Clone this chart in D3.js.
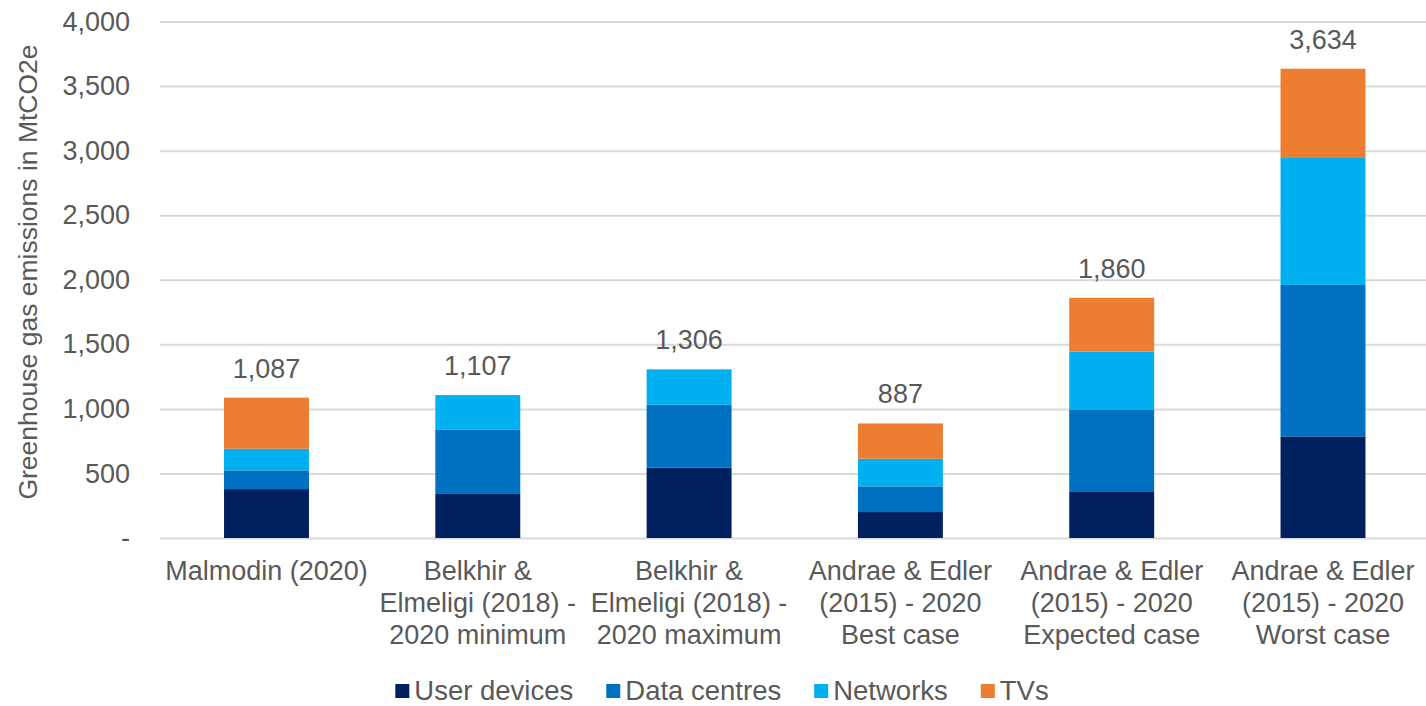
<!DOCTYPE html>
<html>
<head>
<meta charset="utf-8">
<script src="https://cdn.jsdelivr.net/npm/d3@7"></script>
<style>
  html, body { margin: 0; padding: 0; background: #ffffff; }
  svg { display: block; font-family: "Liberation Sans", Arial, sans-serif; }
</style>
</head>
<body>
<svg id="chart" width="1426" height="706"></svg>
<script>
// Study labels, one array entry per wrapped line
const categories = [
  ["Malmodin (2020)"],
  ["Belkhir &", "Elmeligi (2018) -", "2020 minimum"],
  ["Belkhir &", "Elmeligi (2018) -", "2020 maximum"],
  ["Andrae & Edler", "(2015) - 2020", "Best case"],
  ["Andrae & Edler", "(2015) - 2020", "Expected case"],
  ["Andrae & Edler", "(2015) - 2020", "Worst case"]
];

// Emissions by component, MtCO2e
const userDevices = [379, 346, 545, 201, 362, 787];
const dataCentres = [145, 495, 487, 199, 634, 1173];
const networks    = [167, 266, 274, 214, 448, 989];
const tvs         = [396, 0, 0, 273, 416, 685];

// Stated totals shown above each bar
const totals = [1087, 1107, 1306, 887, 1860, 3634];

const seriesNames = ["User devices", "Data centres", "Networks", "TVs"];
const seriesColors = ["#002060", "#0070C0", "#00B0F0", "#ED7D31"];

const yTicks = [0, 500, 1000, 1500, 2000, 2500, 3000, 3500, 4000];

const W = 1426, H = 706;
const plot = { left: 160.85, right: 1428.65, top: 21.5, bottom: 538 };
const textColor = "#595959";
const fontSize = 27;

const svg = d3.select("#chart");

const keys = seriesNames;
const table = categories.map((c, i) => ({
  idx: i,
  "User devices": userDevices[i],
  "Data centres": dataCentres[i],
  "Networks": networks[i],
  "TVs": tvs[i]
}));

const x = d3.scaleBand()
  .domain(categories.map((c, i) => i))
  .range([plot.left, plot.right])
  .paddingInner(0.598)
  .paddingOuter(0.299);

const y = d3.scaleLinear()
  .domain([0, 4000])
  .range([plot.bottom, plot.top]);

const color = d3.scaleOrdinal().domain(keys).range(seriesColors);

// Horizontal gridlines and tick labels
const yAxis = d3.axisLeft(y)
  .tickValues(yTicks)
  .tickSize(-(W - 160))
  .tickPadding(30)
  .tickFormat(d => d === 0 ? "-" : d3.format(",")(d));

const gy = svg.append("g")
  .attr("transform", `translate(160,0)`)
  .call(yAxis);
gy.select(".domain").remove();
gy.selectAll(".tick line")
  .attr("stroke", "#D9D9D9")
  .attr("stroke-width", 2);
gy.selectAll(".tick text")
  .attr("fill", textColor)
  .attr("font-size", fontSize)
  .attr("font-family", "'Liberation Sans', Arial, sans-serif");

// Stacked bars
const stacked = d3.stack().keys(keys)(table);

svg.append("g")
  .selectAll("g")
  .data(stacked)
  .join("g")
  .attr("fill", d => color(d.key))
  .selectAll("rect")
  .data(d => d)
  .join("rect")
  .attr("x", d => x(d.data.idx))
  .attr("width", x.bandwidth())
  .attr("y", d => y(d[1]))
  .attr("height", d => y(d[0]) - y(d[1]));

// Total labels above bars
svg.append("g")
  .selectAll("text")
  .data(totals)
  .join("text")
  .attr("x", (d, i) => x(i) + x.bandwidth() / 2)
  .attr("y", d => y(d) - 20)
  .attr("text-anchor", "middle")
  .attr("fill", textColor)
  .attr("font-size", fontSize)
  .text(d => d3.format(",")(d));

// Category labels under the axis
const catG = svg.append("g");
categories.forEach((lines, i) => {
  const cx = x(i) + x.bandwidth() / 2;
  const t = catG.append("text")
    .attr("x", cx)
    .attr("y", 580)
    .attr("text-anchor", "middle")
    .attr("fill", textColor)
    .attr("font-size", fontSize);
  lines.forEach((ln, j) => {
    t.append("tspan")
      .attr("x", cx)
      .attr("y", 580 + j * 32)
      .text(ln);
  });
});

// Y-axis title
svg.append("text")
  .attr("transform", "translate(37,272) rotate(-90)")
  .attr("text-anchor", "middle")
  .attr("fill", textColor)
  .attr("font-size", 26.5)
  .text("Greenhouse gas emissions in MtCO2e");

// Legend, laid out left to right and centred
const legend = svg.append("g");
let cursor = 0;
const sq = 14, sqGap = 5, itemGap = 33;
keys.forEach(k => {
  const item = legend.append("g").attr("transform", `translate(${cursor},0)`);
  item.append("rect")
    .attr("x", 0).attr("y", 684)
    .attr("width", sq).attr("height", sq)
    .attr("fill", color(k));
  const t = item.append("text")
    .attr("x", sq + sqGap).attr("y", 700)
    .attr("fill", textColor)
    .attr("font-size", 27.5)
    .text(k);
  cursor += sq + sqGap + t.node().getComputedTextLength() + itemGap;
});
const legendWidth = cursor - itemGap;
legend.attr("transform", `translate(${722 - legendWidth / 2},0)`);
</script>
</body>
</html>
